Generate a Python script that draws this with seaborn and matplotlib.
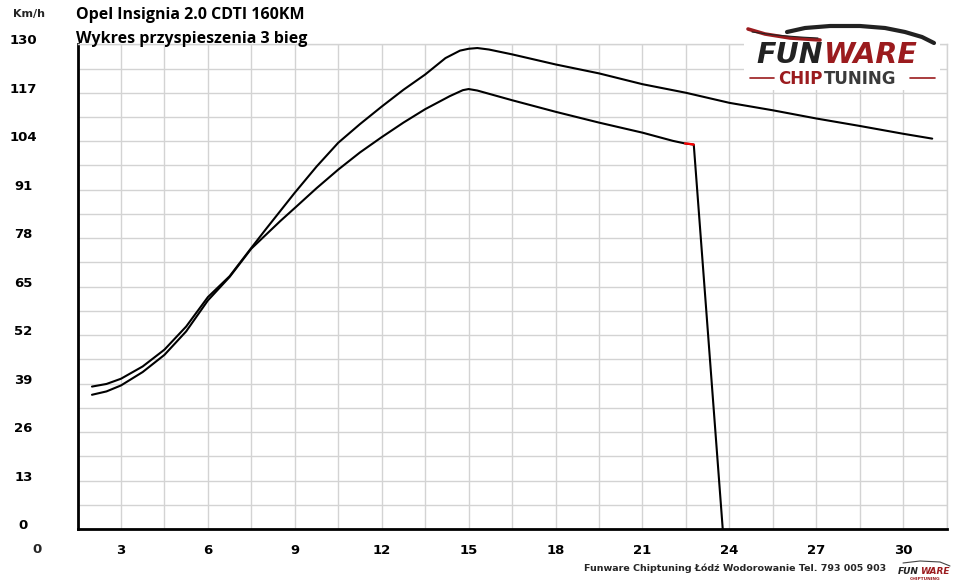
import numpy as np
import pandas as pd
import matplotlib
matplotlib.use("Agg")
import matplotlib.pyplot as plt
import seaborn as sns
from matplotlib.lines import Line2D
from matplotlib.patches import Rectangle
from matplotlib.text import Annotation

# tuned car (upper curve): time [s] vs speed [km/h]
tuned_t = [2.0, 2.5, 3.0, 3.75, 4.5, 5.25, 6.0, 6.75, 7.5, 8.0, 8.5, 9.0, 9.75,
           10.5, 11.25, 12.0, 12.75, 13.5, 14.2, 14.7, 15.0, 15.3, 15.7, 16.5,
           18.0, 19.5, 21.0, 22.5, 24.0, 25.5, 27.0, 28.5, 30.0, 31.0]
tuned_v = [38.2, 38.9, 40.3, 43.6, 48.1, 54.3, 62.2, 67.8, 75.4, 80.4, 85.3, 90.2, 97.2,
           103.6, 108.6, 113.3, 117.8, 121.9, 126.3, 128.3, 128.8, 129.0, 128.6, 127.3,
           124.6, 122.2, 119.3, 117.0, 114.3, 112.3, 110.1, 108.1, 106.0, 104.7]

# stock car (lower curve), ends with the drop to zero
stock_t = [2.0, 2.5, 3.0, 3.75, 4.5, 5.25, 6.0, 6.75, 7.5, 8.0, 8.5, 9.0, 9.75,
           10.5, 11.25, 12.0, 12.75, 13.5, 14.35, 14.8, 15.0, 15.3, 16.5, 18.0,
           19.5, 21.0, 22.05, 22.47, 22.77, 23.77]
stock_v = [36.0, 36.9, 38.5, 42.1, 46.7, 53.0, 61.3, 67.6, 75.2, 78.9, 82.6, 86.1, 91.4,
           96.4, 101.0, 105.1, 109.0, 112.6, 116.1, 117.7, 118.0, 117.6, 115.0, 111.9,
           109.0, 106.3, 104.1, 103.4, 103.1, 0.0]

# short red marker segment on the stock curve
red_t = [22.47, 22.62, 22.77]
red_v = [103.4, 103.3, 103.1]

x_ticks = np.arange(1.5, 31.6, 1.5)
y_ticks = np.arange(0, 130.1, 6.5)

title1 = "Opel Insignia 2.0 CDTI 160KM"
title2 = "Wykres przyspieszenia 3 bieg"
footer = "Funware Chiptuning Łódź Wodorowanie Tel. 793 005 903"

sns.set_style("white")
plt.rcParams["font.family"] = ["DejaVu Sans"]

fig = plt.figure(figsize=(9.6, 5.85), dpi=100)
ax = fig.add_axes([77.5 / 960, 56 / 585, (946.7 - 77.5) / 960, (529 - 44.3) / 585])

tuned = pd.DataFrame({"t": tuned_t, "v": tuned_v})
stock = pd.DataFrame({"t": stock_t, "v": stock_v})
red = pd.DataFrame({"t": red_t, "v": red_v})
sns.lineplot(data=tuned, x="t", y="v", color="black", lw=1.5, sort=False, ax=ax, zorder=3)
sns.lineplot(data=stock, x="t", y="v", color="black", lw=1.5, sort=False, ax=ax, zorder=3)
sns.lineplot(data=red, x="t", y="v", color="#ff0000", lw=1.6, sort=False, ax=ax, zorder=4)

ax.set_xlim(1.5, 31.5)
ax.set_ylim(0, 130)
ax.set_xticks(x_ticks, [str(int(t)) if t % 3 == 0 else "" for t in x_ticks])
ax.set_yticks(y_ticks, [str(int(v)) if v % 13 == 0 else "" for v in y_ticks])
ax.set_xlabel("")
ax.set_ylabel("")
ax.grid(True, color="#d3d3d3", lw=1)
ax.set_axisbelow(True)

for s in ["left", "bottom"]:
    ax.spines[s].set_color("black")
    ax.spines[s].set_linewidth(2)
for s in ["top", "right"]:
    ax.spines[s].set_color("#d3d3d3")
    ax.spines[s].set_linewidth(1)

ax.tick_params(axis="x", direction="out", length=5, width=1, color="black", pad=6,
               labelsize=9.5, labelcolor="black")
ax.tick_params(axis="y", direction="out", length=3, width=1, color="black", pad=36,
               labelsize=9.5, labelcolor="black")
for lab in ax.get_xticklabels() + ax.get_yticklabels():
    lab.set_fontweight("bold")
for lab in ax.get_yticklabels():
    lab.set_horizontalalignment("center")
    lab.set_verticalalignment("baseline")


def fp(px, py):
    return px / 960, 1 - py / 585


# extra texts
fig.text(*fp(37, 553), "0", ha="center", va="baseline", fontsize=9.5, fontweight="bold")
fig.text(*fp(13, 17.5), "Km/h", ha="left", va="baseline", fontsize=8, fontweight="bold")
fig.text(*fp(76, 18.7), title1, ha="left", va="baseline", fontsize=11.5,
         family=["Open Sans", "DejaVu Sans"], fontweight="bold", color="black")
fig.text(*fp(76, 42.7), title2, ha="left", va="baseline", fontsize=11.5,
         family=["Open Sans", "DejaVu Sans"], fontweight="bold", color="black")
fig.text(*fp(735, 571), footer, ha="center", va="baseline", fontsize=6.8, fontweight="bold")

# big logo
dark_red = "#9b1b1e"
fig.patches.append(Rectangle(fp(744, 90), 196 / 960, 68 / 585, transform=fig.transFigure,
                             facecolor="white", edgecolor="none", zorder=5))


def draw_line(pts, color, lw):
    xs = [fp(a, b)[0] for a, b in pts]
    ys = [fp(a, b)[1] for a, b in pts]
    fig.lines.append(Line2D(xs, ys, transform=fig.transFigure, color=color, lw=lw,
                            solid_capstyle="round", zorder=6))


def two_tone(px, py, first, second, c1, c2, size, style, gap=1.0):
    t = fig.text(*fp(px, py), first, ha="left", va="bottom", fontsize=size,
                 fontweight="bold", style=style, color=c1, zorder=7)
    a = Annotation(second, xy=(1, 0), xycoords=t, xytext=(gap, 0),
                   textcoords="offset points", ha="left", va="bottom",
                   fontsize=size, fontweight="bold", style=style, color=c2, zorder=7)
    fig.add_artist(a)


draw_line([(787, 32), (805, 28), (830, 26), (860, 26), (885, 28), (905, 32), (922, 37), (934, 43)], "#222222", 3.0)
draw_line([(748, 29), (765, 34), (790, 38), (820, 40)], dark_red, 2.6)
draw_line([(752, 32), (775, 35), (800, 37), (818, 38)], "#222222", 0.8)
draw_line([(750, 78), (774, 78)], dark_red, 1.2)
draw_line([(910, 78), (935, 78)], dark_red, 1.2)

two_tone(756, 69, "FUN", "WARE", "#222222", dark_red, 20.5, "italic")
two_tone(778, 88, "CHIP", "TUNING", dark_red, "#3a3a3a", 12, "normal")

# small logo in the footer
draw_line([(903, 563), (920, 561), (940, 562), (950, 566)], "#444444", 0.8)
two_tone(898, 576, "FUN", "WARE", "#222222", dark_red, 6.5, "italic", gap=0.6)
fig.text(*fp(925, 580), "CHIPTUNING", ha="center", va="baseline", fontsize=3.2,
         fontweight="bold", color=dark_red)

fig.savefig("out.png", dpi=100)
